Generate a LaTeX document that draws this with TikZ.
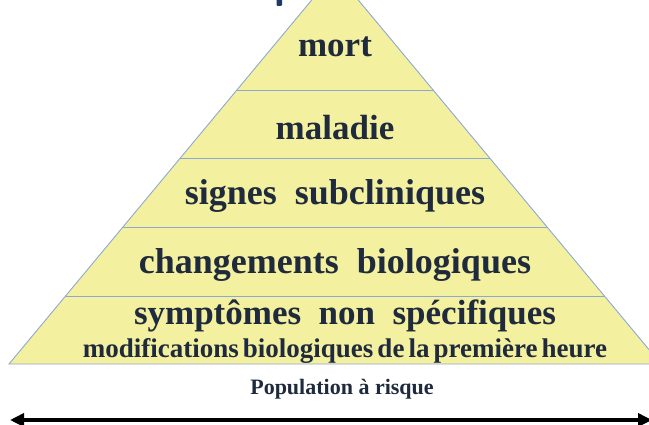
\documentclass[tikz,border=0pt]{standalone}
\usepackage{fontspec}
\setmainfont{Liberation Serif}
\usetikzlibrary{arrows.meta}
\definecolor{pyrfill}{HTML}{F3F0A0}
\definecolor{pyrline}{HTML}{8EA9D1}
\definecolor{txt}{HTML}{1F2A3C}
\definecolor{titleblue}{HTML}{1F3864}
\tikzset{
  lvl/.style={anchor=base, text=txt, font=\bfseries\fontsize{#1}{#1}\selectfont, inner sep=0pt},
  band/.style={draw=pyrline, line width=0.9pt},
}
\begin{document}
\begin{tikzpicture}[x=1pt,y=-1pt]
\useasboundingbox (0,0) rectangle (649,425);
\clip (0,0) rectangle (649,425);
% pyramid
\coordinate (apex) at (335,-28);
\coordinate (bl) at (9,364);
\coordinate (br) at (661,364);
\fill[pyrfill] (apex) -- (bl) -- (br) -- cycle;
\draw[band] (apex) -- (bl) -- (br) -- cycle;
\foreach \yy in {90,158,227,296}{
  \pgfmathsetmacro{\hw}{0.832*(\yy+28)}
  \draw[band] (335-\hw,\yy) -- (335+\hw,\yy);
}
% title fragment
\fill[titleblue, rounded corners=1pt] (276.5,-3) rectangle (282,6);
% labels
\node[lvl=35] (mort) at (335,57) {mort};
\node[lvl=35] (maladie) at (335,140) {maladie};
\node[lvl=36] (signes) at (335,205) {signes\ \ subcliniques};
\node[lvl=36] (chg) at (335,274) {changements\ \ biologiques};
\node[lvl=35] (sympt) at (345,325) {symptômes\ \ non\ \ spécifiques};
\node[lvl=27] (modif) at (345,357) {\spaceskip=0.15em modifications biologiques de la première heure};
\node[lvl=22] (pop) at (342,395) {Population à risque};
% arrow
\coordinate (aL) at (10,420);
\coordinate (aR) at (652,420);
\draw[line width=3.5pt, {Triangle[length=14pt,width=13pt]}-{Triangle[length=14pt,width=13pt]}] (aL) -- (aR);
\end{tikzpicture}
\end{document}
